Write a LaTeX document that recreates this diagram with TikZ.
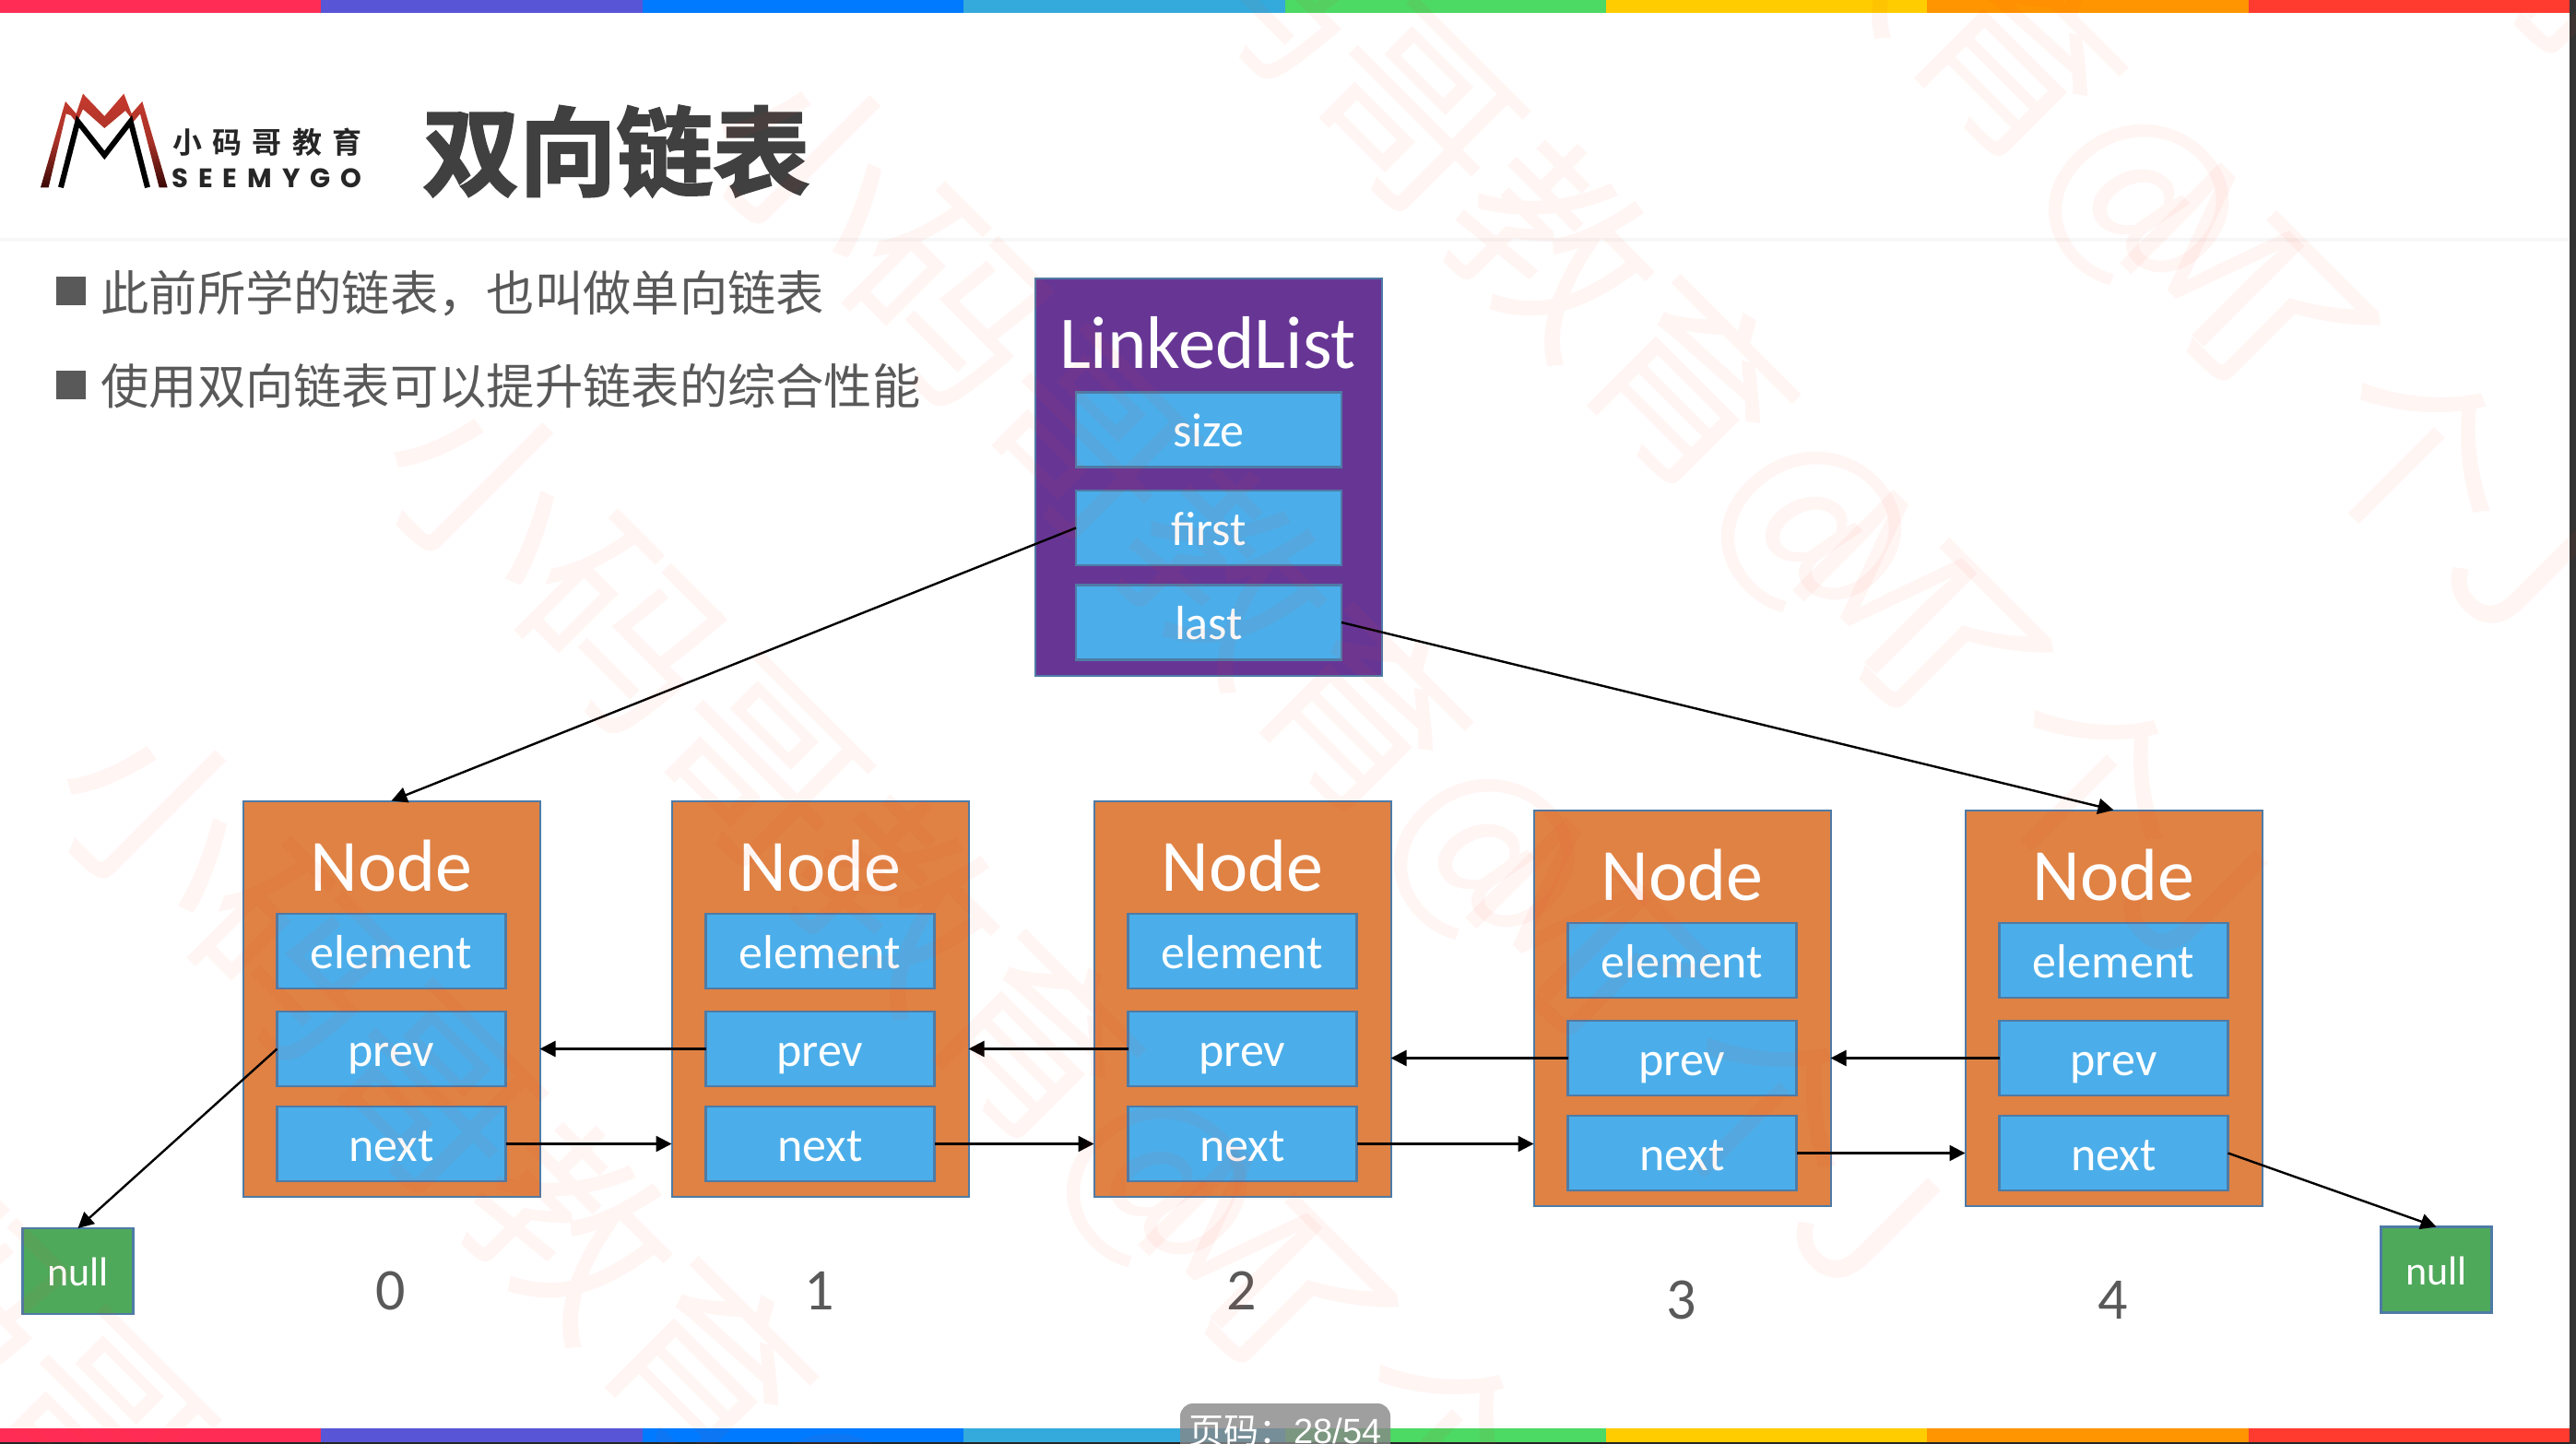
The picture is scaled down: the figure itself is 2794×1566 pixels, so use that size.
\documentclass[tikz,border=0pt]{standalone}
\usepackage{fontspec}
\setmainfont{Carlito}
\newfontfamily\cjk{Noto Sans CJK SC}
\newfontfamily\cjkh[FakeBold=2.2]{Noto Sans CJK SC Bold}
\newfontfamily\cjkm{Noto Sans CJK SC Bold}
\newfontfamily\logosans{Poppins}
\newfontfamily\pagesans{Liberation Sans}
\usetikzlibrary{arrows.meta}
\definecolor{barA}{HTML}{FF2D55}
\definecolor{barB}{HTML}{5856D6}
\definecolor{barC}{HTML}{007AFF}
\definecolor{barD}{HTML}{34AADC}
\definecolor{barE}{HTML}{4CD964}
\definecolor{barF}{HTML}{FFCC00}
\definecolor{barG}{HTML}{FF9500}
\definecolor{barH}{HTML}{FF3B30}
\definecolor{boxblue}{HTML}{4BAEEA}
\definecolor{boxline}{HTML}{4E7BA6}
\definecolor{boxorange}{HTML}{DF8244}
\definecolor{boxpurple}{HTML}{673695}
\definecolor{boxgreen}{HTML}{4FA95B}
\definecolor{slidegrey}{HTML}{595959}
\definecolor{titlegrey}{HTML}{404040}
\definecolor{wmred}{HTML}{FF3B1E}
\definecolor{logored}{HTML}{C63A2E}
\definecolor{logodark}{HTML}{3A0806}
\tikzset{
  x=0.5pt,y=-0.5pt,
  barseg/.style={fill=#1,draw=none},
  inbox/.style={draw=boxline,fill=boxblue,line width=1.25pt,minimum width=#1,minimum height=40.5pt,
    inner sep=0pt,outer sep=0pt,text=white,font=\fontsize{26pt}{26pt}\selectfont,text height=19pt,text depth=0pt},
  outerbox/.style={draw=boxline,line width=1pt,inner sep=0pt,outer sep=0pt},
  bigtitle/.style={anchor=base,text=white,inner sep=0pt,font=\fontsize{40pt}{40pt}\selectfont},
  digit/.style={anchor=base,text=slidegrey,inner sep=0pt,font=\fontsize{32pt}{32pt}\selectfont},
  nullbox/.style={draw=boxline,fill=boxgreen,line width=1.25pt,minimum width=60pt,minimum height=46.5pt,
    inner sep=0pt,outer sep=0pt,text=white,font=\fontsize{22pt}{22pt}\selectfont,text height=16pt,text depth=0pt},
  conn/.style={draw=black,line width=1.2pt,-{Triangle[length=8.5pt,width=8.5pt]}},
  bullet/.style={fill=slidegrey,draw=none},
  bullettext/.style={anchor=base west,inner sep=0pt,text=slidegrey,font=\cjk\fontsize{26.15pt}{26.15pt}\selectfont},
  wmark/.style={rotate=-45,text=wmred,text opacity=0.05,inner sep=0pt,font=\cjk\fontsize{105.5pt}{105.5pt}\selectfont}
}
\newcommand{\nodeblock}[4]{% id, left, top, digit
  \node[outerbox,fill=boxorange,minimum width=161pt,minimum height=214.5pt] (n#1) at ({#2+161.5},{#3+215}) {};
  \node[bigtitle] (t#1) at ({#2+161.5},{#3+98}) {Node};
  \node[inbox=124pt] (e#1) at ({#2+161.5},{#3+163.5}) {element};
  \node[inbox=124pt] (p#1) at ({#2+161.5},{#3+269.5}) {prev};
  \node[inbox=124pt] (x#1) at ({#2+161.5},{#3+372.5}) {next};
  \node[digit] (d#1) at ({#2+160.5},{#3+552}) {#4};
}
\begin{document}
\begin{tikzpicture}
\clip (0,0) rectangle (2794,1566);
\fill[white] (0,0) rectangle (2794,1566);
% colour bars
\foreach \c [count=\i from 0] in {barA,barB,barC,barD,barE,barF,barG,barH}{
  \fill[barseg=\c] ({\i*348.4},0) rectangle ({(\i+1)*348.4},14);
  \fill[barseg=\c] ({\i*348.4},1549) rectangle ({(\i+1)*348.4},1564);
}
\fill[black!85] (0,1564) rectangle (2794,1566);
\fill[black!80] (2787,0) rectangle (2794,1566);
% header rule
\fill[black!3] (0,258) rectangle (2787,262);
% logo
\begin{scope}[shift={(30,90)},scale=1/3]
  \shade[top color=logored,bottom color=logodark,middle color=logored!85!black]
    (42,340) -- (123,60) -- (158,100) -- (180,35) -- (250,108) -- (313,35) -- (338,100) -- (373,60) -- (455,340)
    -- (428,340) -- (366,100) -- (345,125) -- (318,90) -- (250,147) -- (180,85) -- (160,130) -- (140,105) -- (125,100) -- (68,340) -- cycle;
  \draw[black,line width=3pt,miter limit=3] (108,340) -- (163,125) -- (250,235) -- (335,125) -- (390,340);
\end{scope}
\node[anchor=base west,inner sep=0pt,text=black!85,font=\cjkm\fontsize{16pt}{16pt}\selectfont] (logocn) at (187,167)
  {\makebox[102.5pt][s]{小\hfil 码\hfil 哥\hfil 教\hfil 育}};
\node[anchor=base west,inner sep=0pt,text=black!85,font=\logosans\bfseries\fontsize{14.5pt}{14.5pt}\selectfont] (logoen) at (186,204)
  {\makebox[103pt][s]{S\hfil E\hfil E\hfil M\hfil Y\hfil G\hfil O}};
% title
\node[anchor=base west,inner sep=0pt,text=titlegrey,font=\cjkh\fontsize{52.5pt}{52.5pt}\selectfont] (title) at (458,204) {双向链表};
% bullets
\fill[bullet] (61,300) rectangle (93,331);
\fill[bullet] (61,402) rectangle (93,433);
\node[bullettext] (lineA) at (109,338) {此前所学的链表，也叫做单向链表};
\node[bullettext] (lineB) at (109,439) {使用双向链表可以提升链表的综合性能};
% LinkedList
\node[outerbox,fill=boxpurple,minimum width=188pt,minimum height=215.5pt] (list) at (1310.5,518) {};
\node[bigtitle,font=\fontsize{40.4pt}{40.4pt}\selectfont] (listtitle) at (1310,400) {LinkedList};
\node[inbox=144pt] (size) at (1311,466) {size};
\node[inbox=144pt] (first) at (1311,572.5) {first};
\node[inbox=144pt] (last) at (1311,675) {last};
% nodes
\nodeblock{0}{263}{868}{0}
\nodeblock{1}{728}{868}{1}
\nodeblock{2}{1186}{868}{2}
\nodeblock{3}{1663}{878}{3}
\nodeblock{4}{2131}{878}{4}
% nulls
\node[nullbox] (nullL) at (84.5,1378.5) {null};
\node[nullbox] (nullR) at (2642.5,1377) {null};
% connectors
\draw[conn] (first.west) -- (n0.north);
\draw[conn] (last.east) -- (n4.north);
\draw[conn] (p0.west) -- (nullL.north);
\draw[conn] (x4.east) -- (nullR.north);
\draw[conn] (p1.west) -- (p1.west -| n0.east);
\draw[conn] (p2.west) -- (p2.west -| n1.east);
\draw[conn] (p3.west) -- (p3.west -| n2.east);
\draw[conn] (p4.west) -- (p4.west -| n3.east);
\draw[conn] (x0.east) -- (x0.east -| n1.west);
\draw[conn] (x1.east) -- (x1.east -| n2.west);
\draw[conn] (x2.east) -- (x2.east -| n3.west);
\draw[conn] (x3.east) -- (x3.east -| n4.west);
% watermark
\foreach \wx/\wy [count=\k] in {2496/-329,2141/26,1786/381,1431/736,1076/1091,721/1446,366/1801}{
  \node[wmark] (wm\k) at (\wx,\wy) {小码哥教育@\kern-.43em M\kern-.43em 了个J};
}
% page label
\fill[fill=black!47,opacity=0.8,rounded corners=7pt] (1280,1522) rectangle (1508,1600);
\node[anchor=base west,inner sep=0pt,text=white,font=\cjk\fontsize{19pt}{19pt}\selectfont] (pagelabel) at (1289,1565) {页码：{\pagesans 28/54}};
\end{tikzpicture}
\end{document}
